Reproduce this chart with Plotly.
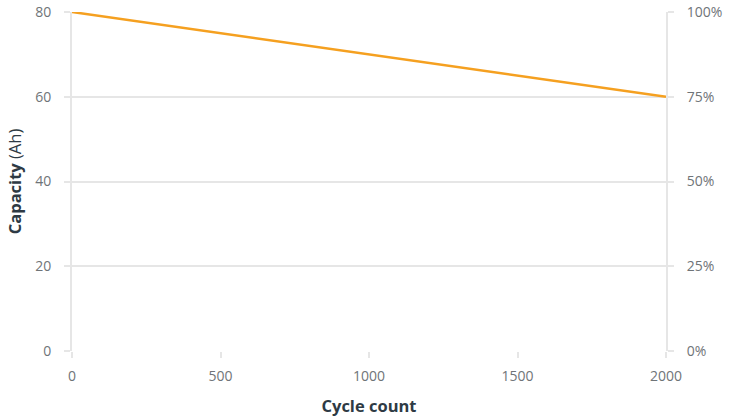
import plotly.graph_objects as go

cycles = [0, 500, 1000, 1500, 2000]
capacity_ah = [80, 75, 70, 65, 60]
y_ticks = [0, 20, 40, 60, 80]
pct_ticks = [0, 25, 50, 75, 100]
pct_labels = ["0%", "25%", "50%", "75%", "100%"]
x_ticks = [0, 500, 1000, 1500, 2000]

FONT = "Open Sans, Noto Sans, sans-serif"
GRID = "#e6e6e6"
TICKC = "#6f7478"
TITLEC = "#2e3a44"

fig = go.Figure()
fig.add_trace(go.Scatter(x=cycles, y=capacity_ah, mode="lines",
                         line=dict(color="#f5a020", width=2.5),
                         hoverinfo="skip", showlegend=False))
fig.add_trace(go.Scatter(x=[0], y=[0], yaxis="y2", mode="markers",
                         marker=dict(opacity=0), hoverinfo="skip", showlegend=False))

fig.update_layout(
    width=736, height=419,
    margin=dict(l=72, r=70, t=12, b=68),
    paper_bgcolor="white", plot_bgcolor="white",
    font=dict(family=FONT, size=14, color=TICKC),
    xaxis=dict(range=[0, 2000], tickvals=x_ticks, showgrid=False, zeroline=False,
               showline=False, ticks="outside", ticklen=6, tickcolor=GRID, tickwidth=2,
               automargin=False, ticklabelstandoff=6,
               tickfont=dict(size=14, color=TICKC),
               title=dict(text="<b>Cycle count</b>", font=dict(size=16.5, color=TITLEC), standoff=16)),
    yaxis=dict(range=[0, 80], tickvals=y_ticks, showgrid=True, gridcolor=GRID, gridwidth=2,
               zeroline=False, showline=True, linecolor=GRID, linewidth=2,
               ticks="outside", ticklen=6, tickcolor=GRID, tickwidth=2,
               automargin=False, ticklabelstandoff=10,
               tickfont=dict(size=14, color=TICKC),
               title=dict(text="<b>Capacity</b> (Ah)", font=dict(size=16.5, color=TITLEC), standoff=9)),
    yaxis2=dict(range=[0, 100], tickvals=pct_ticks, ticktext=pct_labels, overlaying="y",
                side="right", showgrid=False, zeroline=False, showline=True,
                linecolor=GRID, linewidth=2, ticks="outside", ticklen=6, tickcolor=GRID,
                tickwidth=2, automargin=False, ticklabelstandoff=10,
                tickfont=dict(size=14, color=TICKC)),
)

fig.write_html("out.html", config={"displayModeBar": False},
               post_script="document.body.style.margin='0';document.body.style.overflow='hidden';")
